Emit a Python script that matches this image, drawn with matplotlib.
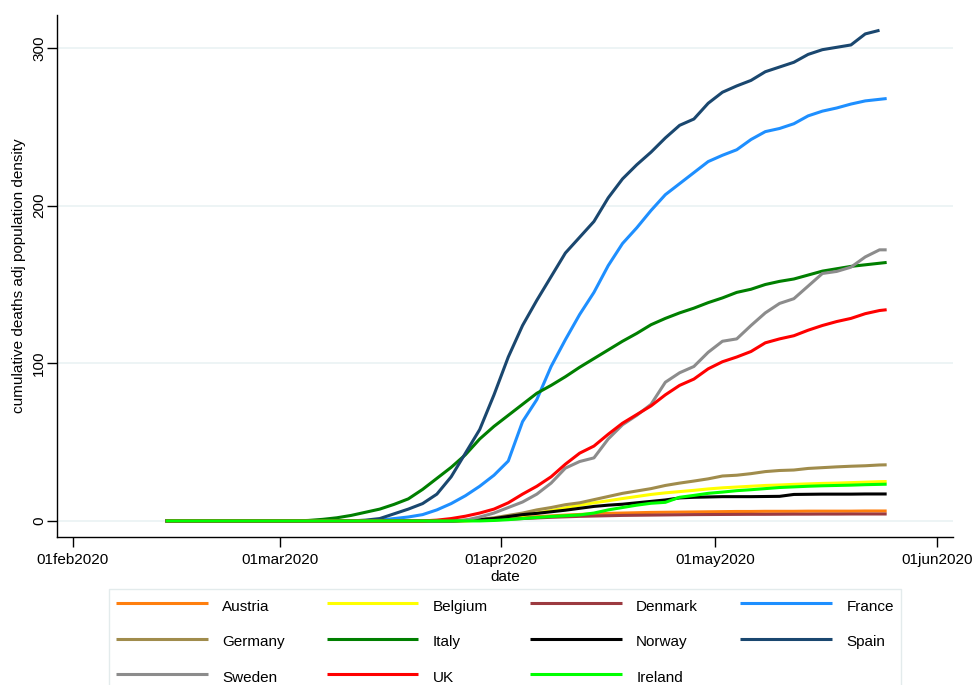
import numpy as np
import pandas as pd
import matplotlib
matplotlib.use('Agg')
from matplotlib import pyplot as plt

plt.rcParams['font.family'] = ['Liberation Sans', 'DejaVu Sans']
plt.rcParams['font.size'] = 11

# every second day from 14feb2020, plus the last day
dates = list(pd.date_range('2020-02-14', '2020-05-24', freq='2D')) + [pd.Timestamp('2020-05-25')]
nan = np.nan

austria = [0]*20 + [0.1, 0.3, 0.6, 1, 1.5, 2.1, 2.7, 3.2, 3.7, 4.1,
                    4.5, 4.8, 5, 5.2, 5.4, 5.5, 5.6, 5.7, 5.8, 5.9,
                    6, 6, 6.1, 6.1, 6.1, 6.2, 6.2, 6.2, 6.2, 6.3, 6.3, 6.3]
belgium = [0]*22 + [0.5, 1, 2, 3.5, 5, 6.5, 8.3, 10, 11.5, 12.8,
                    14.2, 15.5, 16.8, 17.8, 18.6, 19.4, 20.3, 21, 21.5, 22,
                    22.5, 22.8, 23.2, 23.5, 23.8, 24, 24.3, 24.6, 24.9, 25]
denmark = [0]*21 + [0.2, 0.4, 0.7, 1.1, 1.5, 1.9, 2.3, 2.6, 2.9, 3.1,
                    3.3, 3.5, 3.6, 3.7, 3.8, 3.9, 4, 4.05, 4.1, 4.15,
                    4.2, 4.2, 4.25, 4.3, 4.3, 4.35, 4.35, 4.4, 4.4, 4.4, 4.4]
france = [0]*15 + [0.5, 1.5, 2.5, 4, 7, 11, 16, 22, 29, 38,
                   63, 77, 98, 115, 131, 145, 162, 176, 186, 197,
                   207, 214, 221, 228, 232, 235.5, 242, 247, 249, 252,
                   257, 260, 262, 264.5, 266.5, 267.5, 268]
germany = [0]*21 + [0.5, 1, 2, 3.5, 5, 7, 8.5, 10.3, 11.5, 13.5,
                    15.5, 17.5, 19, 20.5, 22.5, 24, 25.3, 26.7, 28.5, 29,
                    30, 31.3, 32, 32.3, 33.3, 33.8, 34.3, 34.7, 35, 35.5, 35.6]
italy = [0]*10 + [0.3, 1, 2, 3.5, 5.5, 7.5, 10.5, 14, 20, 27,
                  34, 42, 52, 60, 67, 74, 81, 86, 91.5, 97.5,
                  103, 108.5, 114, 119, 124.5, 128.5, 132, 135, 138.5, 141.5,
                  145, 147, 150, 152, 153.5, 156, 158.5, 160, 161.5, 162.5,
                  163.5, 164]
norway = [0]*21 + [0.3, 0.8, 1.5, 2.8, 4, 4.8, 5.8, 6.8, 8, 9.2,
                   10, 10.6, 11.5, 12.4, 13.3, 14.6, 15, 15.2, 15.4, 15.4,
                   15.4, 15.5, 15.6, 16.8, 16.9, 17, 17, 17, 17.1, 17.1, 17.1]
spain = [0]*14 + [0.5, 1.5, 4.5, 7.5, 11, 17, 28, 43, 58, 80,
                  104, 124, 140, 155, 170, 180, 190, 205, 217, 226,
                  234, 243, 251, 255, 265, 272, 276, 279.5, 285, 288,
                  291, 296, 299, 300.5, 302, 309, 311.3] + [nan]
sweden = [0]*21 + [0.5, 2.5, 5, 8.5, 12, 17, 24, 33.5, 37.7, 40,
                   52, 61, 67, 74, 88, 94, 98, 107, 114, 115.5,
                   124, 132, 138, 141, 149, 157, 158.3, 161, 167.5, 172, 172]
uk = [0]*19 + [0.5, 1.5, 3, 5, 7.5, 11.5, 17, 22, 28, 36,
               43, 47.5, 55, 62, 67.5, 73, 80, 86, 90, 96.5,
               101, 104, 107.5, 113, 115.5, 117.5, 121, 124, 126.5, 128.5,
               131.5, 133.5, 134]
ireland = [0]*23 + [0.3, 0.8, 1.5, 2.2, 2.8, 3.3, 3.8, 5, 7, 8.5,
                    10, 11.2, 11.8, 15, 16.2, 17.5, 18.3, 19.2, 19.8, 20.5,
                    21.2, 21.6, 22, 22.3, 22.5, 22.7, 23, 23.2, 23.3]

countries = ['Austria', 'Belgium', 'Denmark', 'France', 'Germany', 'Italy',
             'Norway', 'Spain', 'Sweden', 'UK', 'Ireland']
series = [austria, belgium, denmark, france, germany, italy,
          norway, spain, sweden, uk, ireland]
colors = ['#ff7f0e', '#ffff00', '#9c3a40', '#1e8fff', '#a08c4c', '#007f00',
          '#000000', '#1a476f', '#8c8c8c', '#ff0000', '#00ff00']

tick_dates = pd.to_datetime(['2020-02-01', '2020-03-01', '2020-04-01', '2020-05-01', '2020-06-01'])
tick_labels = ['01feb2020', '01mar2020', '01apr2020', '01may2020', '01jun2020']
y_ticks = [0, 100, 200, 300]

fig = plt.figure(figsize=(9.74, 6.85), dpi=100)
ax = fig.add_axes([57/974, 1 - 537/685, 896/974, 522/685])

lines = {}
for name, vals, c in zip(countries, series, colors):
    ln, = ax.plot(dates, vals, color=c, lw=2.2, solid_capstyle='butt', label=name)
    lines[name] = ln

ax.set_xlim(pd.Timestamp('2020-01-29 19:00'), pd.Timestamp('2020-06-03 07:00'))
ax.set_ylim(-10.2, 321)
ax.set_xticks(tick_dates)
ax.set_xticklabels(tick_labels)
ax.set_yticks(y_ticks)
ax.set_yticklabels([str(v) for v in y_ticks], rotation=90, va='center')
ax.tick_params(direction='out', length=7, width=1, colors='black')
ax.tick_params(axis='x', pad=4.5)
ax.tick_params(axis='y', pad=0.8)

ax.grid(axis='y', color='#eaf2f3', lw=1.2)
ax.grid(axis='x', visible=False)
ax.set_axisbelow(True)
for side in ['top', 'right']:
    ax.spines[side].set_visible(False)
for side in ['left', 'bottom']:
    ax.spines[side].set_linewidth(1)

ax.set_xlabel('date', va='center')
ax.xaxis.set_label_coords(0.5, -0.077)
ax.set_ylabel('cumulative deaths adj population density', va='center')
ax.yaxis.set_label_coords(-0.042, 0.5)

# stata fills the key row by row, matplotlib column by column
order = ['Austria', 'Germany', 'Sweden', 'Belgium', 'Italy', 'UK',
         'Denmark', 'Norway', 'Ireland', 'France', 'Spain']
leg = fig.legend([lines[n] for n in order], order, ncol=4, loc='upper left',
                 bbox_to_anchor=(109/974, 1 - 589/685), borderaxespad=0,
                 frameon=True, fancybox=False, edgecolor='#dce6e8',
                 handlelength=6.0, handleheight=1.6, handletextpad=0.95,
                 columnspacing=2.75, labelspacing=1.04, borderpad=0.45)
leg.get_frame().set_linewidth(1)

fig.savefig('out.png', dpi=100)
